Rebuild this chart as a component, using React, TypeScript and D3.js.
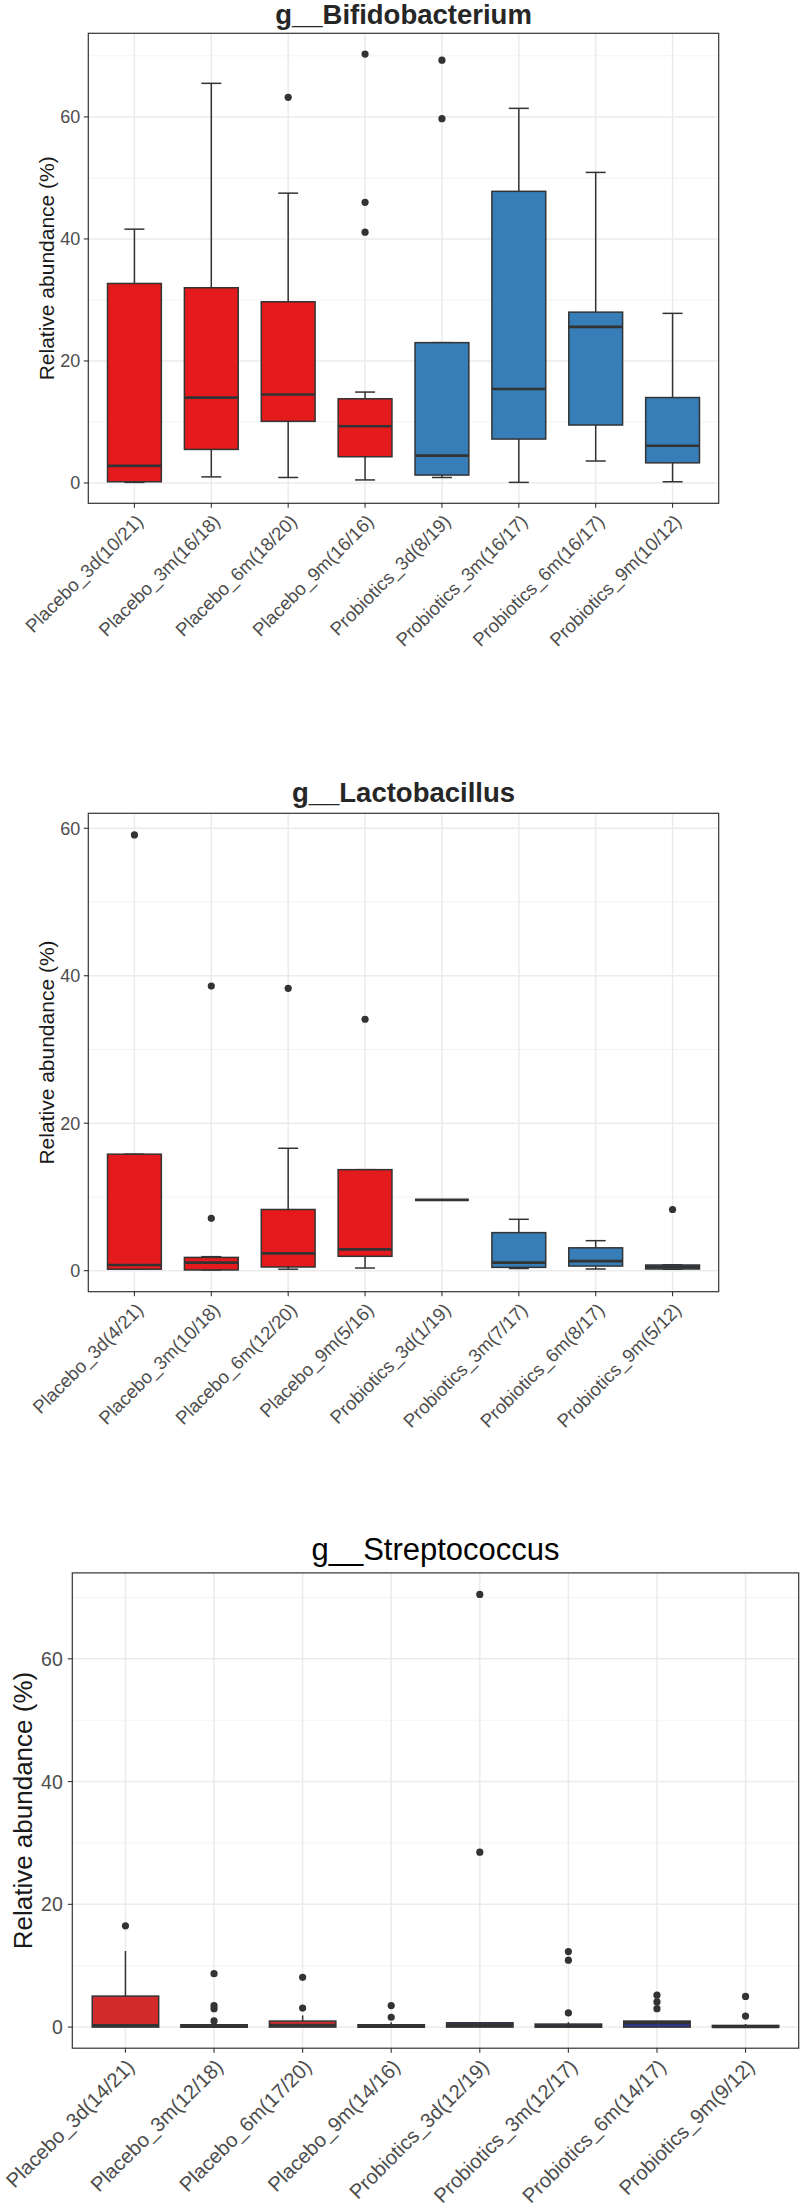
import React from 'react';
import * as d3 from 'd3';

// ---------- g__Bifidobacterium ----------
const bifLabels = [
  'Placebo_3d(10/21)', 'Placebo_3m(16/18)', 'Placebo_6m(18/20)', 'Placebo_9m(16/16)',
  'Probiotics_3d(8/19)', 'Probiotics_3m(16/17)', 'Probiotics_6m(16/17)', 'Probiotics_9m(10/12)',
];
const bifQ1 = [0.2, 5.5, 10.1, 4.3, 1.3, 7.2, 9.5, 3.3];
const bifMedian = [2.8, 14.0, 14.5, 9.3, 4.5, 15.4, 25.6, 6.1];
const bifQ3 = [32.7, 32.0, 29.7, 13.8, 23.0, 47.8, 28.0, 14.0];
const bifLow = [0.1, 1.0, 0.9, 0.5, 0.9, 0.1, 3.6, 0.2];
const bifHigh = [41.6, 65.5, 47.5, 14.9, 23.0, 61.4, 50.9, 27.8];
const bifOutliers = [[], [], [63.2], [70.3, 46.0, 41.1], [69.3, 59.7], [], [], []];

// ---------- g__Lactobacillus ----------
const lacLabels = [
  'Placebo_3d(4/21)', 'Placebo_3m(10/18)', 'Placebo_6m(12/20)', 'Placebo_9m(5/16)',
  'Probiotics_3d(1/19)', 'Probiotics_3m(7/17)', 'Probiotics_6m(8/17)', 'Probiotics_9m(5/12)',
];
const lacQ1 = [0.2, 0.1, 0.5, 1.95, 9.6, 0.45, 0.63, 0.23];
const lacMedian = [0.77, 1.1, 2.35, 2.9, 9.6, 1.09, 1.3, 0.5];
const lacQ3 = [15.8, 1.8, 8.3, 13.7, 9.6, 5.16, 3.1, 0.77];
const lacLow = [0.2, 0.1, 0.2, 0.36, 9.6, 0.3, 0.23, 0.2];
const lacHigh = [15.8, 1.9, 16.6, 13.7, 9.6, 6.97, 4.07, 0.8];
const lacOutliers = [[59.1], [38.6, 7.1], [38.3], [34.1], [], [], [], [8.3]];

// ---------- g__Streptococcus ----------
const strLabels = [
  'Placebo_3d(14/21)', 'Placebo_3m(12/18)', 'Placebo_6m(17/20)', 'Placebo_9m(14/16)',
  'Probiotics_3d(12/19)', 'Probiotics_3m(12/17)', 'Probiotics_6m(14/17)', 'Probiotics_9m(9/12)',
];
const strQ1 = [0, 0, 0, 0, 0, 0, 0, 0];
const strMedian = [0.27, 0.1, 0.3, 0.1, 0.3, 0.15, 0.7, 0.05];
const strQ3 = [5.05, 0.38, 0.98, 0.38, 0.7, 0.49, 0.98, 0.27];
const strLow = [0, 0, 0, 0, 0, 0, 0, 0];
const strHigh = [12.4, 0.5, 1.9, 0.8, 0.8, 0.8, 0.98, 0.5];
const strOutliers = [[16.5], [8.7, 3.5, 3.0, 1.0], [8.1, 3.1], [3.5, 1.6], [70.5, 28.5], [12.3, 10.9, 2.3], [5.2, 4.1, 3.0], [5.0, 1.8]];

const yTicks = [0, 20, 40, 60];
const FONT = '"Liberation Sans", Arial, Helvetica, sans-serif';

type PanelCfg = {
  title: string;
  labels: string[];
  q1: number[]; med: number[]; q3: number[]; lo: number[]; hi: number[]; out: number[][];
  minorTicks: number[];
  left: number; right: number; top: number; bottom: number;
  domain: [number, number];
  titleY: number; titleSize: number; titleWeight: string; titleColor: string;
  yLabX: number; yLabSize: number; tickSize: number; xLabSize: number;
  boxW: number; capW: number;
  colors: [string, string];
  lw: number; medW: number; r: number;
  xLabDx: number; xLabDy: number; yTickGap: number;
};

function BoxPanel({ p }: { p: PanelCfg }) {
  const x = d3.scalePoint<string>().domain(p.labels).range([p.left, p.right]).padding(0.6);
  const y = d3.scaleLinear().domain(p.domain).range([p.bottom, p.top]);
  const step = x.step();
  const bw = step * p.boxW;
  const cw = step * p.capW;
  const cx = (p.left + p.right) / 2;
  const cy = (p.top + p.bottom) / 2;
  return (
    <g fontFamily={FONT}>
      <text x={cx} y={p.titleY} textAnchor="middle" fontSize={p.titleSize} fontWeight={p.titleWeight} fill={p.titleColor}>{p.title}</text>
      <rect x={p.left} y={p.top} width={p.right - p.left} height={p.bottom - p.top} fill="#fff" />
      {p.minorTicks.map((t) => (
        <line key={'mi' + t} x1={p.left} x2={p.right} y1={y(t)} y2={y(t)} stroke="#F2F2F2" strokeWidth={0.9} />
      ))}
      {yTicks.map((t) => (
        <line key={'ma' + t} x1={p.left} x2={p.right} y1={y(t)} y2={y(t)} stroke="#EBEBEB" strokeWidth={1.5} />
      ))}
      {p.labels.map((l) => (
        <line key={'v' + l} x1={x(l)} x2={x(l)} y1={p.top} y2={p.bottom} stroke="#EBEBEB" strokeWidth={1.5} />
      ))}
      {p.labels.map((l, i) => {
        const xc = x(l) as number;
        const fill = l.startsWith('Placebo') ? p.colors[0] : p.colors[1];
        return (
          <g key={'b' + l} stroke="#333333">
            <line x1={xc} x2={xc} y1={y(p.hi[i])} y2={y(p.q3[i])} strokeWidth={p.lw} />
            <line x1={xc} x2={xc} y1={y(p.q1[i])} y2={y(p.lo[i])} strokeWidth={p.lw} />
            {p.capW > 0 && (
              <>
                <line x1={xc - cw / 2} x2={xc + cw / 2} y1={y(p.hi[i])} y2={y(p.hi[i])} strokeWidth={p.lw} />
                <line x1={xc - cw / 2} x2={xc + cw / 2} y1={y(p.lo[i])} y2={y(p.lo[i])} strokeWidth={p.lw} />
              </>
            )}
            <rect x={xc - bw / 2} y={y(p.q3[i])} width={bw} height={Math.max(0, y(p.q1[i]) - y(p.q3[i]))} fill={fill} strokeWidth={p.lw} />
            <line x1={xc - bw / 2} x2={xc + bw / 2} y1={y(p.med[i])} y2={y(p.med[i])} strokeWidth={p.medW} />
            {p.out[i].map((o, j) => (
              <circle key={j} cx={xc} cy={y(o)} r={p.r} fill="#333333" stroke="none" />
            ))}
          </g>
        );
      })}
      <rect x={p.left} y={p.top} width={p.right - p.left} height={p.bottom - p.top} fill="none" stroke="#333333" strokeWidth={1.2} />
      {yTicks.map((t) => (
        <g key={'yt' + t}>
          <line x1={p.left - 4.5} x2={p.left} y1={y(t)} y2={y(t)} stroke="#333333" strokeWidth={1.1} />
          <text x={p.left - p.yTickGap} y={y(t)} dy="0.36em" textAnchor="end" fontSize={p.tickSize} fill="#4D4D4D">{t}</text>
        </g>
      ))}
      {p.labels.map((l) => {
        const xc = x(l) as number;
        return (
          <g key={'xt' + l}>
            <line x1={xc} x2={xc} y1={p.bottom} y2={p.bottom + 4.5} stroke="#333333" strokeWidth={1.1} />
            <text transform={`translate(${xc + p.xLabDx},${p.bottom + p.xLabDy}) rotate(-45)`} dy="0.71em" textAnchor="end" fontSize={p.xLabSize} fill="#4D4D4D">{l}</text>
          </g>
        );
      })}
      <text transform={`translate(${p.yLabX},${cy}) rotate(-90)`} dy="0.36em" textAnchor="middle" fontSize={p.yLabSize} fill="#1A1A1A">Relative abundance (%)</text>
    </g>
  );
}

const panels: PanelCfg[] = [
  {
    title: 'g__Bifidobacterium', labels: bifLabels,
    q1: bifQ1, med: bifMedian, q3: bifQ3, lo: bifLow, hi: bifHigh, out: bifOutliers,
    minorTicks: [10, 30, 50, 70],
    left: 88.3, right: 718.7, top: 33.3, bottom: 503.3, domain: [-3.33, 73.7],
    titleY: 23.5, titleSize: 27.5, titleWeight: 'bold', titleColor: '#262626',
    yLabX: 46, yLabSize: 21, tickSize: 18, xLabSize: 18.6,
    boxW: 0.7, capW: 0.26, colors: ['#E41A1C', '#377EB8'],
    lw: 1.5, medW: 2.7, r: 3.6, xLabDx: 0.5, xLabDy: 10, yTickGap: 8,
  },
  {
    title: 'g__Lactobacillus', labels: lacLabels,
    q1: lacQ1, med: lacMedian, q3: lacQ3, lo: lacLow, hi: lacHigh, out: lacOutliers,
    minorTicks: [10, 30, 50],
    left: 88.3, right: 718.7, top: 813.3, bottom: 1291.7, domain: [-2.85, 62.03],
    titleY: 801.7, titleSize: 27.5, titleWeight: 'bold', titleColor: '#262626',
    yLabX: 46, yLabSize: 21, tickSize: 18, xLabSize: 18.6,
    boxW: 0.7, capW: 0.26, colors: ['#E41A1C', '#377EB8'],
    lw: 1.5, medW: 2.7, r: 3.6, xLabDx: 0.5, xLabDy: 10, yTickGap: 8,
  },
  {
    title: 'g__Streptococcus', labels: strLabels,
    q1: strQ1, med: strMedian, q3: strQ3, lo: strLow, hi: strHigh, out: strOutliers,
    minorTicks: [10, 30, 50, 70],
    left: 72.3, right: 798.7, top: 1572.9, bottom: 2048.2, domain: [-3.44, 74.0],
    titleY: 1559.6, titleSize: 31, titleWeight: 'normal', titleColor: '#000000',
    yLabX: 22.7, yLabSize: 26, tickSize: 19.5, xLabSize: 20.3,
    boxW: 0.75, capW: 0, colors: ['#D32B2B', '#2B3990'],
    lw: 1.5, medW: 3, r: 3.6, xLabDx: 0, xLabDy: 9.5, yTickGap: 9.5,
  },
];

export default function App() {
  return (
    <svg width={800} height={2209} style={{ position: 'absolute', left: 0, top: 0, background: '#fff' }}>
      <rect x={0} y={0} width={800} height={2209} fill="#fff" />
      {panels.map((p) => (
        <BoxPanel key={p.title} p={p} />
      ))}
    </svg>
  );
}
